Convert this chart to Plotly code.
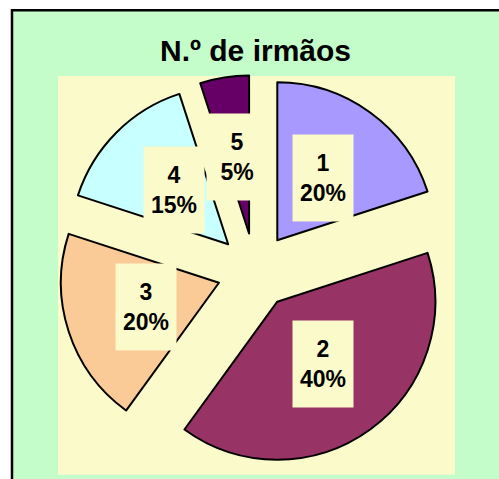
import math
import plotly.graph_objects as go

# Number of siblings: categories and their share (%)
categories = ["1", "2", "3", "4", "5"]
shares = [20, 40, 20, 15, 5]
slice_colors = ["#A799FF", "#983366", "#FACB96", "#C8FFFF", "#660066"]

title_text = "N.º de irmãos"

W, H = 499, 479
GREEN = "#C5FDCA"
YELLOW = "#FAFACA"
FONT = "Arial, Liberation Sans, sans-serif"

# pie geometry in pixels
cx, cy = 255.0, 271.0      # centre of the un-exploded pie
radius = 158.0
pull = 0.24
label_r = 115.0            # distance of label boxes from the centre
half = radius * (1 + pull)


def px_x(x):
    return x / W


def px_y(y):
    return (H - y) / H


fig = go.Figure()
fig.add_trace(go.Pie(
    labels=categories,
    values=shares,
    sort=False,
    direction="clockwise",
    rotation=0,
    pull=[pull] * len(shares),
    marker=dict(colors=slice_colors, line=dict(color="black", width=2)),
    textinfo="none",
    hoverinfo="label+percent",
    showlegend=False,
    domain=dict(x=[px_x(cx - half), px_x(cx + half)],
                y=[px_y(cy + half), px_y(cy - half)]),
))

# data labels placed on each slice's bisector
total = sum(shares)
annotations = []
cum = 0.0
for cat, val in zip(categories, shares):
    mid = (cum + val / 2) / total * 2 * math.pi
    cum += val
    lx = cx + label_r * math.sin(mid)
    ly = cy - label_r * math.cos(mid)
    pct = round(val / total * 100)
    annotations.append(dict(
        x=px_x(lx), y=px_y(ly), xref="paper", yref="paper",
        xanchor="center", yanchor="middle",
        text=f"<b>{cat}<br>{pct}%</b>",
        showarrow=False,
        font=dict(family=FONT, size=23, color="black"),
        bgcolor=YELLOW, borderpad=0, width=60, height=86,
        align="center", valign="middle",
    ))

annotations.append(dict(
    x=px_x(256), y=px_y(50), xref="paper", yref="paper",
    xanchor="center", yanchor="middle",
    text=f"<b>{title_text}</b>", showarrow=False,
    font=dict(family=FONT, size=30, color="black"),
))

shapes = [
    # chart area with border
    dict(type="rect", xref="paper", yref="paper", layer="below",
         x0=px_x(12), x1=1.05, y0=-0.05, y1=px_y(10.3),
         fillcolor=GREEN, line=dict(color="black", width=2.5)),
    # plot area
    dict(type="rect", xref="paper", yref="paper", layer="below",
         x0=px_x(58), x1=px_x(455), y0=px_y(474.7), y1=px_y(76),
         fillcolor=YELLOW, line=dict(width=0)),
]

fig.update_layout(
    width=W, height=H,
    margin=dict(l=0, r=0, t=0, b=0),
    paper_bgcolor="white",
    plot_bgcolor="white",
    shapes=shapes,
    annotations=annotations,
    font=dict(family=FONT),
)

fig.write_html("out.html")
